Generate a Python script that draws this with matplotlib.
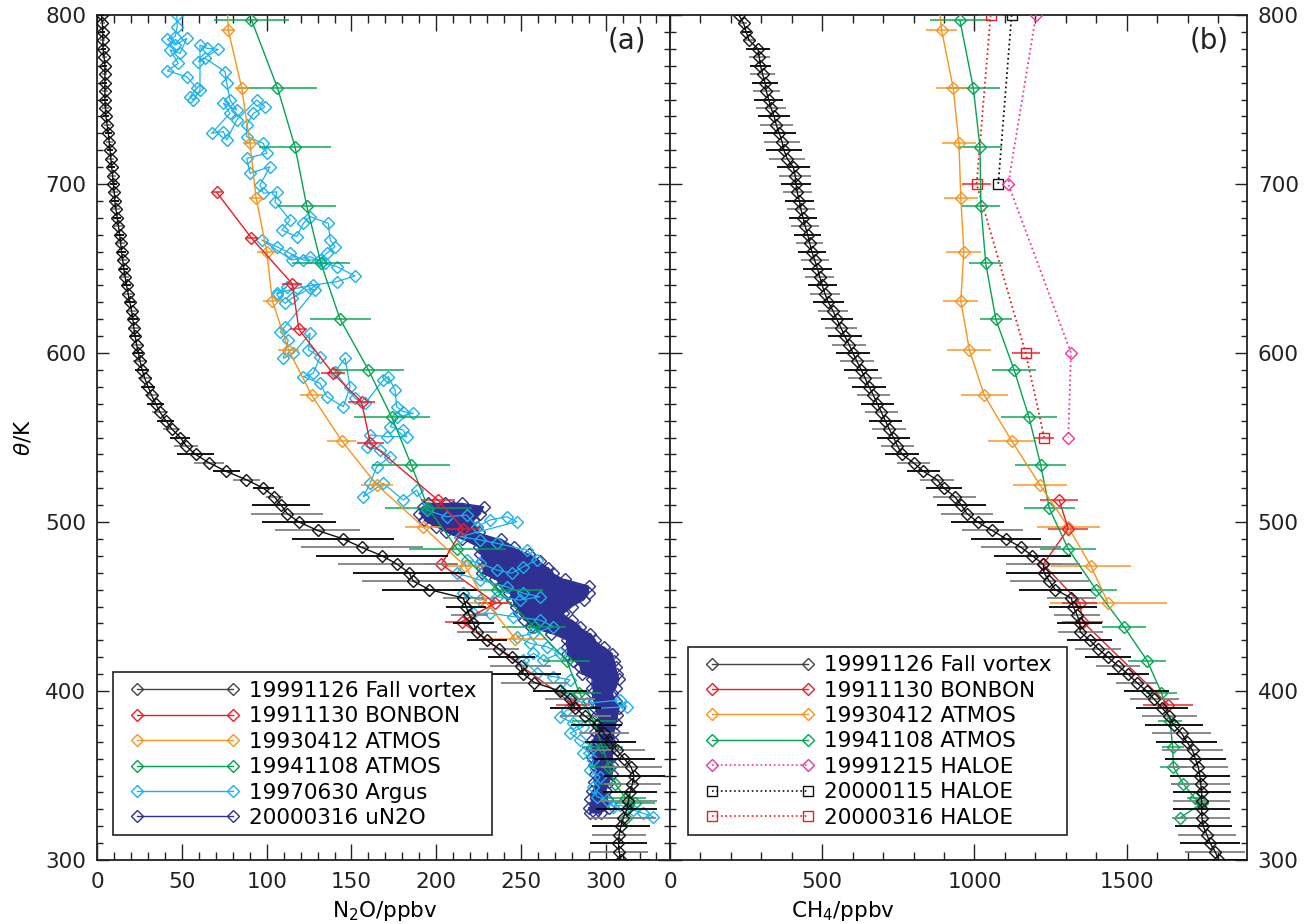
import numpy as np
import matplotlib
matplotlib.use('Agg')
import matplotlib.pyplot as plt
from matplotlib.lines import Line2D
from matplotlib.patches import Rectangle
from matplotlib.ticker import MultipleLocator

plt.rcParams['font.family'] = ['DejaVu Sans']
plt.rcParams['mathtext.fontset'] = 'dejavusans'

# ---------------- data ----------------
THETA_FV = list(range(800, 295, -5))
N2O_FV = [2.5, 3.0, 3.2, 3.3, 3.4, 4.0, 4.5, 4.5, 4.5, 4.5,
          4.5, 4.8, 5.1, 5.8, 6.5, 7.0, 7.5, 8.0, 8.5, 9.0,
          9.5, 10.0, 10.3, 11.0, 11.7, 12.5, 13.2, 13.8, 14.3, 15.0,
          15.6, 16.4, 17.3, 18.2, 19.2, 20.2, 21.0, 21.5, 22.3, 23.2,
          24.2, 25.3, 26.5, 28.0, 30.0, 32.0, 34.5, 37.0, 40.5, 44.0,
          49.0, 52.5, 58.0, 66.0, 76.0, 88.0, 98.0, 104.5, 108.5, 112.0,
          119.0, 130.0, 145.0, 156.0, 168.0, 177.0, 184.0, 186.5, 196.0, 216.0,
          217.6, 219.5, 222.0, 224.0, 230.0, 237.0, 244.5, 250.0, 251.5, 258.0,
          273.0, 279.0, 282.0, 288.0, 294.8, 299.0, 302.7, 306.5, 311.0, 315.0,
          316.8, 315.8, 314.5, 313.5, 312.5, 310.5, 309.0, 308.0, 307.6, 308.0,
          309.0]
N2O_FV_ERR = [1.5, 1.5, 1.5, 1.5, 1.5, 1.5, 1.5, 1.5, 1.5,
              2, 2, 2, 2, 2, 2, 2, 2, 2, 2, 2, 2,
              2.5, 2.5, 2.5, 2.5, 2.5, 2.5, 2.5, 2.5, 2.5, 2.5, 2.5, 2.5,
              3, 3, 3, 3, 3, 3, 3, 3,
              4, 4, 4, 4, 4,
              5, 5, 5, 5,
              6, 7, 11, 9, 8,
              8, 6, 5,
              17, 21, 22,
              25, 30, 36, 39, 35,
              33, 30, 28,
              12, 12, 11, 12, 12, 12, 12, 14, 18, 22, 20,
              16, 15, 15, 15, 15, 15, 15, 17, 18, 18, 18, 17, 16, 17, 18, 19, 17, 16, 17, 17, 17]
CH4_FV = [226, 242, 250, 260, 289, 293, 297, 304, 312, 316,
          324, 332, 342, 349, 359, 368, 374, 385, 405, 411,
          414, 418, 425, 430, 437, 444, 452, 459, 466, 475,
          484, 492, 500, 509, 520, 535, 548, 561, 574, 588,
          601, 614, 628, 641, 654, 668, 681, 694, 707, 720,
          734, 747, 762, 800, 832, 877, 900, 935, 957, 975,
          1010, 1058, 1104, 1153, 1190, 1226, 1228, 1246, 1265, 1318,
          1324, 1337, 1346, 1347, 1379, 1406, 1438, 1471, 1504, 1533,
          1565, 1591, 1616, 1640, 1654, 1680, 1697, 1716, 1725, 1735,
          1740, 1743, 1746, 1746, 1746, 1747, 1751, 1763, 1774, 1790,
          1803]
CH4_FV_ERR = [10, 12, 15, 20,
              38, 35, 35, 40, 42,
              45, 48, 50, 52, 55, 55, 58, 60, 60, 55, 52, 50,
              48, 48, 46, 46, 45, 45, 45, 46, 46, 48, 48, 48,
              48, 50, 50, 52, 52, 55, 55, 55,
              55, 55, 55, 55, 55, 55, 55, 55, 55, 55, 55,
              55, 55, 55, 55, 60, 70, 80, 85,
              88, 100, 114, 130, 126, 122, 125, 129, 118,
              80, 78, 76, 74, 74, 74, 75, 75, 72, 70, 67,
              75, 80, 85, 90, 95, 98, 100, 101, 100, 99, 99, 97, 95, 93, 93, 93, 94, 96, 98, 99, 99]

BON_THETA_N2O = [695, 668, 641, 614, 588, 571, 547, 513, 496, 475, 452, 441, 392]
BON_N2O = [70.5, 91, 115, 119, 139, 156, 161, 201, 216, 203, 235, 215, 281]
BON_N2O_ERR = [3, 4, 6, 5, 7, 8, 8, 10, 10, 10, 10, 10, 10]
BON_THETA_CH4 = [513, 496, 475, 452, 441, 392]
BON_CH4 = [1278, 1308, 1226, 1346, 1355, 1636]
BON_CH4_ERR = [63, 66, 63, 57, 68, 81]

A93_THETA = [810, 791, 757, 724, 692, 660, 631, 602, 575, 548, 522, 497, 474, 452, 431]
A93_N2O = [76.5, 77.3, 85.2, 90.1, 93.7, 100.0, 103.3, 112.8, 126.5, 144.3, 164.9, 192.5, 217.0, 229.9, 246.6]
A93_N2O_ERR = [4, 4, 4, 4.4, 4, 6, 5.4, 6.4, 7, 8.5, 9.4, 11, 12, 14, 18]
A93_THETA_CH4 = [810, 791, 757, 724, 692, 660, 631, 602, 575, 548, 522, 497, 474, 452]
A93_CH4 = [880, 892, 930, 949, 955, 965, 955, 983, 1032, 1122, 1215, 1308, 1382, 1439]
A93_CH4_ERR = [50, 51, 55, 55, 55, 57, 57, 72, 77, 79, 89, 104, 131, 192]

A94_THETA = [797, 757, 722, 687, 653, 620, 590, 562, 534, 508, 484, 460, 438, 418,
             399, 382, 367, 355, 345, 336.5, 333.5, 325]
A94_N2O = [91, 106.3, 116.7, 123.6, 132, 143.3, 160, 173.8, 185.2, 195.4, 212.5, 235.8, 257.8, 277,
           284.5, 293, 298, 302, 305.6, 312, 317.4, 312]
A94_N2O_ERR = [22, 23.6, 21, 17, 17, 18, 21, 22.5, 23, 25.6, 28.5, 27, 19, 14,
               13, 13, 12, 11, 10, 12, 12, 10]
A94_CH4 = [952, 996, 1018, 1021, 1037, 1070, 1130, 1179, 1217, 1246, 1308, 1399, 1491, 1567,
           1614, 1642, 1651, 1653, 1686, 1724, 1746, 1675]
A94_CH4_ERR = [99, 89, 71, 64, 55, 52, 73, 93, 84, 84, 92, 70, 73, 63,
               50, 38, 36, 44, 41, 25, 25, 25]

H1215_THETA = [800, 700, 600, 550]
H1215_CH4 = [1202, 1111, 1317, 1308]
H0115_THETA = [800, 700]
H0115_CH4 = [1122, 1078]
H0316_THETA = [800, 700, 600, 550]
H0316_CH4 = [1053, 1007, 1168, 1229]
H0316_ERR = [40, 48, 46, 33]

ARGUS_N2O = [46.9, 47.2, 45.9, 41.3, 45.9, 52.8, 48.8, 42.9, 47.8, 41.3,
             52.8, 58.7, 54.7, 56.7, 60.6, 60.6, 64.6, 71.4, 59.6, 63.6,
             75.4, 76.4, 78.3, 82.3, 74.4, 78.3, 67.5, 74.4, 76.4, 82.3,
             94.1, 99.0, 92.1, 88.2, 88.2, 98.0, 100.0, 88.2, 90.1, 101.9,
             96.0, 98.0, 105.9, 104.9, 113.8, 108.9, 117.7, 121.6, 125.6, 136.4,
             137.4, 140.3, 135.4, 131.5, 121.6, 113.8, 105.9, 97.0, 114.8, 125.6,
             134.4, 141.3, 152.1, 141.3, 127.5, 117.7, 105.9, 111.8, 105.9, 110.8,
             114.8, 125.6, 128.5, 110.8, 107.9, 112.7, 109.8, 115.7, 125.6, 124.6,
             131.5, 127.5, 121.6, 131.5, 135.4, 145.2, 149.2, 146.2, 140.3, 152.1,
             158.0, 168.8, 171.8, 175.7, 176.7, 180.6, 186.5, 176.7, 172.8, 180.6,
             182.6, 170.8, 161.0, 159.0, 166.9, 172.8, 164.9, 161.0, 157.0, 168.8,
             180.6, 188.5, 194.4, 206.3, 218.1, 224.0, 231.8, 241.7, 247.6, 214.1,
             225.9, 235.8, 253.5, 259.4, 251.5, 244.6, 235.8, 225.9, 218.1, 212.2,
             225.9, 241.7, 251.5, 261.3, 249.5, 235.8, 225.9, 216.0, 222.0, 231.8,
             245.6, 261.3, 269.2, 257.4, 247.6, 255.4, 265.3, 273.1, 263.3, 257.4,
             251.5, 259.4, 269.2, 279.0, 273.1, 281.0, 288.9, 308.5, 312.5, 277.1,
             273.1, 281.0, 286.9, 279.0, 284.9, 292.8, 286.9, 292.8, 290.8, 296.7,
             292.8, 294.8, 300.7, 304.6, 308.5, 316.4, 322.3, 328.2]
ARGUS_THETA = [800.0, 793.1, 787.2, 785.6, 782.2, 786.2, 777.3, 779.3, 771.4, 767.0,
               763.5, 756.6, 751.7, 749.7, 755.6, 782.2, 780.3, 779.7, 772.4, 774.4,
               766.5, 759.6, 749.7, 743.8, 747.8, 741.8, 730.0, 731.0, 726.0, 737.9,
               749.7, 745.7, 741.8, 734.9, 728.0, 724.1, 718.2, 715.2, 706.3, 710.2,
               699.4, 694.5, 695.4, 689.5, 678.7, 672.8, 668.8, 676.7, 680.7, 676.7,
               666.9, 662.9, 659.0, 655.0, 655.0, 659.0, 662.9, 666.9, 655.0, 657.0,
               653.1, 651.1, 645.6, 642.2, 640.2, 638.3, 635.3, 639.2, 634.4, 629.4,
               632.4, 638.3, 637.3, 615.6, 612.6, 607.7, 596.9, 599.8, 611.7, 601.8,
               597.8, 588.0, 586.0, 582.1, 574.2, 568.2, 580.1, 596.9, 588.9, 573.2,
               570.2, 584.0, 586.0, 578.1, 568.2, 565.3, 564.3, 562.3, 556.4, 554.4,
               550.5, 550.5, 551.5, 544.6, 542.6, 538.6, 532.7, 522.9, 514.9, 522.9,
               513.0, 518.9, 507.1, 503.1, 504.1, 497.2, 501.2, 503.1, 500.2, 491.3,
               489.4, 487.4, 483.4, 477.5, 473.6, 469.7, 471.6, 475.6, 477.5, 469.7,
               465.7, 461.7, 457.8, 455.8, 453.8, 455.8, 453.8, 457.8, 446.0, 446.0,
               444.0, 442.0, 438.1, 434.1, 432.1, 428.2, 426.2, 422.3, 418.3, 422.3,
               418.3, 410.5, 408.5, 406.5, 400.6, 394.7, 392.7, 394.7, 390.7, 388.8,
               384.8, 380.9, 378.9, 375.0, 371.0, 367.0, 363.1, 359.2, 353.3, 349.3,
               343.4, 337.5, 335.5, 331.6, 332.5, 329.6, 327.6, 325.6]

UN2O_THETA = [511, 509, 505, 501, 497, 494, 490, 485, 481, 477, 473, 470, 466, 462, 458,
              454, 450, 446, 442, 438, 434, 430, 426, 422, 418, 414, 410, 407, 402, 399,
              394, 390, 386, 381, 376, 371, 366, 361, 356, 351, 346, 341, 336, 331, 328]
UN2O_LEFT = [195, 192, 190, 193, 200, 206, 215, 225, 226, 227, 227, 227, 235, 238, 243,
             245, 247, 249, 252, 256, 268, 277, 277, 277, 281, 285, 286, 292, 292, 292,
             293, 294, 295, 296, 294, 292, 292, 292, 293, 294, 293, 292, 291, 290, 291]
UN2O_MID = [205, 210, 208, 207, 212, 215, 226, 235, 240, 244, 246, 248, 255, 264, 266,
            266, 263, 262, 266, 270, 279, 286, 288, 290, 293, 296, 297, 300, 299, 298,
            300, 301, 301, 301, 299, 298, 298, 298, 299, 299, 297, 296, 296, 296, 294]
UN2O_RIGHT = [215, 228, 226, 222, 224, 225, 238, 246, 255, 261, 266, 269, 276, 290, 290,
              287, 280, 275, 280, 285, 291, 294, 299, 304, 305, 306, 307, 308, 306, 304,
              306, 308, 307, 306, 305, 304, 304, 304, 304, 304, 302, 300, 301, 302, 297]

# ---------------- styles ----------------
C_BLACK = '#111111'
C_RED = '#ed1c24'
C_ORANGE = '#f7941d'
C_GREEN = '#00a651'
C_LBLUE = '#19b2ec'
C_DBLUE = '#2e3192'
C_MAG = '#f0359b'
FS = 15.5
MS = 6.2

fig = plt.figure(figsize=(13.05, 9.24), dpi=100)
axL = fig.add_axes([97.3 / 1305, 1 - 860 / 924, (670 - 97.3) / 1305, 845 / 924])
axR = fig.add_axes([670 / 1305, 1 - 860 / 924, 576.7 / 1305, 845 / 924])


def style(ax, xmaj, xmin, xlim):
    ax.set_xlim(*xlim)
    ax.set_ylim(300, 800)
    ax.xaxis.set_major_locator(MultipleLocator(xmaj))
    ax.xaxis.set_minor_locator(MultipleLocator(xmin))
    ax.yaxis.set_major_locator(MultipleLocator(100))
    ax.yaxis.set_minor_locator(MultipleLocator(10))
    ax.tick_params(which='both', direction='in', top=True, right=True, left=True,
                   bottom=True, labelsize=FS, colors='#222222')
    ax.tick_params(axis='x', which='major', length=11.5, width=1, pad=9)
    ax.tick_params(axis='x', which='minor', length=5.8, width=1)
    ax.tick_params(axis='y', which='major', length=8.6, width=1, pad=8)
    ax.tick_params(axis='y', which='minor', length=4.3, width=1)
    for s in ax.spines.values():
        s.set_linewidth(1.3)
        s.set_color('#222222')


def series(ax, x, y, err, color, marker='D', ms=MS, ls='-', lw=1.0, z=3, ealpha=0.75):
    x = np.asarray(x, float)
    y = np.asarray(y, float)
    if err is not None:
        e = np.asarray(err, float)
        ax.hlines(y, x - e, x + e, colors=color, lw=1.4, alpha=ealpha, zorder=z)
    ax.plot(x, y, ls=ls, color=color, lw=lw, marker=marker, ms=ms, mfc='none',
            mec=color, mew=1.0, zorder=z + 0.1)


# ---------------- left panel: N2O ----------------
style(axL, 50, 10, (0, 338))

# uN2O: dense band
axL.fill_betweenx(UN2O_THETA, UN2O_LEFT, UN2O_RIGHT, color=C_DBLUE, lw=0, zorder=1.5)
px, py = [], []
for i, th in enumerate(UN2O_THETA):
    trip = [UN2O_LEFT[i], UN2O_MID[i], UN2O_RIGHT[i]]
    if i % 2:
        trip = trip[::-1]
    px += trip
    py += [th] * 3
axL.plot(px, py, color=C_DBLUE, lw=1.0, marker='D', ms=MS, mfc='none', mec=C_DBLUE,
         mew=1.0, zorder=1.6)

# Argus
axL.plot(ARGUS_N2O, ARGUS_THETA, color=C_LBLUE, lw=0.9, marker='D', ms=MS, mfc='none',
         mec=C_LBLUE, mew=1.0, zorder=2)

series(axL, A94_N2O, A94_THETA, A94_N2O_ERR, C_GREEN)
series(axL, A93_N2O, A93_THETA, A93_N2O_ERR, C_ORANGE)
series(axL, BON_N2O, BON_THETA_N2O, BON_N2O_ERR, C_RED)

# fall vortex (black) with alternating black/grey error bars
nfv = np.asarray(N2O_FV, float)
efv = np.asarray(N2O_FV_ERR, float)
ecol = ['#000000' if i % 2 == 0 else '#808080' for i in range(len(THETA_FV))]
axL.hlines(THETA_FV, nfv - efv, nfv + efv, colors=ecol, lw=1.3, zorder=5)
axL.plot(N2O_FV, THETA_FV, color=C_BLACK, lw=1.0, marker='D', ms=MS, mfc='none',
         mec=C_BLACK, mew=1.0, zorder=6)

axL.set_xlabel('N$_2$O/ppbv', fontsize=FS)
axL.xaxis.set_label_coords(0.502, -0.046)
axL.set_ylabel(r'$\theta$/K', fontsize=FS)
axL.yaxis.set_label_coords(-0.112, 0.50)
axL.text(0.925, 0.970, '(a)', transform=axL.transAxes, fontsize=20, ha='center',
         va='center', color='#222222')

# ---------------- right panel: CH4 ----------------
style(axR, 500, 100, (0, 1894))
axR.tick_params(axis='y', labelleft=False, labelright=True)

series(axR, H0316_CH4, H0316_THETA, H0316_ERR, C_RED, marker='s', ms=7.5, ls=':', lw=1.3)
series(axR, H0115_CH4, H0115_THETA, None, C_BLACK, marker='s', ms=7.5, ls=':', lw=1.3)
series(axR, H1215_CH4, H1215_THETA, None, C_MAG, marker='D', ms=MS, ls=':', lw=1.3)
series(axR, A94_CH4, A94_THETA, A94_CH4_ERR, C_GREEN)
series(axR, A93_CH4, A93_THETA_CH4, A93_CH4_ERR, C_ORANGE)
series(axR, BON_CH4, BON_THETA_CH4, BON_CH4_ERR, C_RED)

cfv = np.asarray(CH4_FV, float)
cefv = np.asarray(CH4_FV_ERR, float)
axR.hlines(THETA_FV, cfv - cefv, cfv + cefv, colors=ecol, lw=1.3, zorder=5)
axR.plot(CH4_FV, THETA_FV, color=C_BLACK, lw=1.0, marker='D', ms=MS, mfc='none',
         mec=C_BLACK, mew=1.0, zorder=6)

axR.set_xlabel('CH$_4$/ppbv', fontsize=FS)
axR.xaxis.set_label_coords(0.30, -0.046)
axR.text(0.9346, 0.970, '(b)', transform=axR.transAxes, fontsize=20, ha='center',
         va='center', color='#222222')


# ---------------- legends ----------------
def handle(color, marker='D', ls='-', ms=MS):
    return Line2D([], [], color=color, ls=ls, lw=1.2 if ls == ':' else 1.0, marker=marker,
                  ms=ms, mfc='none', mec=color, mew=1.0)


left_labels = ['19991126 Fall vortex', '19911130 BONBON', '19930412 ATMOS',
               '19941108 ATMOS', '19970630 Argus', '20000316 uN2O']
left_handles = [handle('#444444'), handle(C_RED), handle(C_ORANGE), handle(C_GREEN),
                handle(C_LBLUE), handle(C_DBLUE)]
right_labels = ['19991126 Fall vortex', '19911130 BONBON', '19930412 ATMOS',
                '19941108 ATMOS', '19991215 HALOE', '20000115 HALOE', '20000316 HALOE']
right_handles = [handle('#444444'), handle(C_RED), handle(C_ORANGE), handle(C_GREEN),
                 handle(C_MAG, ls=':'), handle(C_BLACK, 's', ':', 7.5),
                 handle(C_RED, 's', ':', 7.5)]

legkw = dict(fontsize=FS, numpoints=2, handlelength=5.04, handletextpad=0.45,
             labelspacing=0.25, borderpad=0.0, borderaxespad=0.0, frameon=False,
             loc='upper left')
lgL = axL.legend(left_handles, left_labels, bbox_to_anchor=(0.0583, 0.2118), **legkw)
lgL.set_zorder(10)
axL.add_patch(Rectangle((0.0279, 0.0292), 0.6613, 0.1929, transform=axL.transAxes,
                        fill=True, facecolor='white', edgecolor='#222222', lw=1.2,
                        zorder=9))
lgR = axR.legend(right_handles, right_labels, bbox_to_anchor=(0.0616, 0.2423), **legkw)
lgR.set_zorder(10)
axR.add_patch(Rectangle((0.0312, 0.0292), 0.6577, 0.2232, transform=axR.transAxes,
                        fill=True, facecolor='white', edgecolor='#222222', lw=1.2,
                        zorder=9))

fig.savefig('out.png', dpi=100)
